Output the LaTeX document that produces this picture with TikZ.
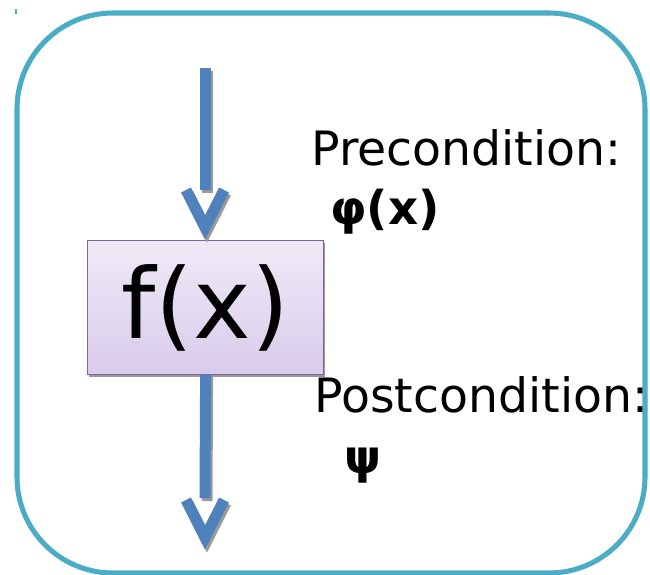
\documentclass[tikz,border=0pt]{standalone}
\usepackage{fontspec}
\setmainfont{DejaVu Sans}
\usetikzlibrary{calc}
\definecolor{frame}{HTML}{4BACC6}
\definecolor{arrowblue}{HTML}{4F81BD}
\definecolor{boxedge}{HTML}{8064A2}
\definecolor{boxtop}{HTML}{F0EAF7}
\definecolor{boxbot}{HTML}{D8CBEB}
\definecolor{shadowgray}{HTML}{9A9A9A}
\begin{document}
\begin{tikzpicture}[x=0.75pt,y=-0.75pt,
  shaft/.style={line width=8.25pt,arrowblue},
  vhead/.style={line width=8.25pt,arrowblue,miter limit=10},
  arrowshadow/.style={line width=8.25pt,shadowgray},
  txtlabel/.style={anchor=base west,inner sep=0pt,font=\fontsize{35.5}{40}\selectfont},
  formula/.style={anchor=base west,inner sep=0pt,font=\fontsize{35}{38}\selectfont\bfseries}]
\useasboundingbox (0,0) rectangle (650,575);
\fill[white] (0,0) rectangle (650,575);
% frame
\draw[frame,line width=3.8pt,rounded corners=72pt] (17,13) rectangle (645,573);
\draw[frame,line width=0.8pt] (16,9) -- (16,14);
% box
\fill[shadowgray] (89,243) rectangle (325,377);
\node[draw=boxedge,line width=0.9pt,top color=boxtop,bottom color=boxbot,
  minimum width=177pt,minimum height=100.5pt,inner sep=0pt,anchor=north west,
  font=\fontsize{73}{80}\selectfont] (f) at (87,240) {f(x)};
% coordinates
\coordinate (t0) at (205,68);
\coordinate (t1) at (205,190);
\coordinate (b1) at (205,498);
% top arrow
\draw[arrowshadow] ($(t0)+(2,3)$) -- ($(t1)+(2,3)$);
\draw[arrowshadow] (188,193) -- (207,230.5) -- (226,193);
\draw[shaft] (t0) -- (t1);
\draw[vhead] (186,190) -- (205,227.5) -- (224,190);
% bottom arrow
\draw[arrowshadow] ($(f.south)+(2,0)$) -- ($(b1)+(2,3)$);
\draw[arrowshadow] (188,503) -- (207,540.5) -- (226,503);
\draw[shaft] (f.south) -- (b1);
\draw[vhead] (186,500) -- (205,537.5) -- (224,500);
% texts
\node[txtlabel] (pre) at (311,165) {Precondition:};
\node[formula] (phi) at (330,224) {φ(x)};
\node[txtlabel] (post) at (314,412) {Postcondition:};
\node[formula] (psi) at (344,473) {ψ};
\end{tikzpicture}
\end{document}
